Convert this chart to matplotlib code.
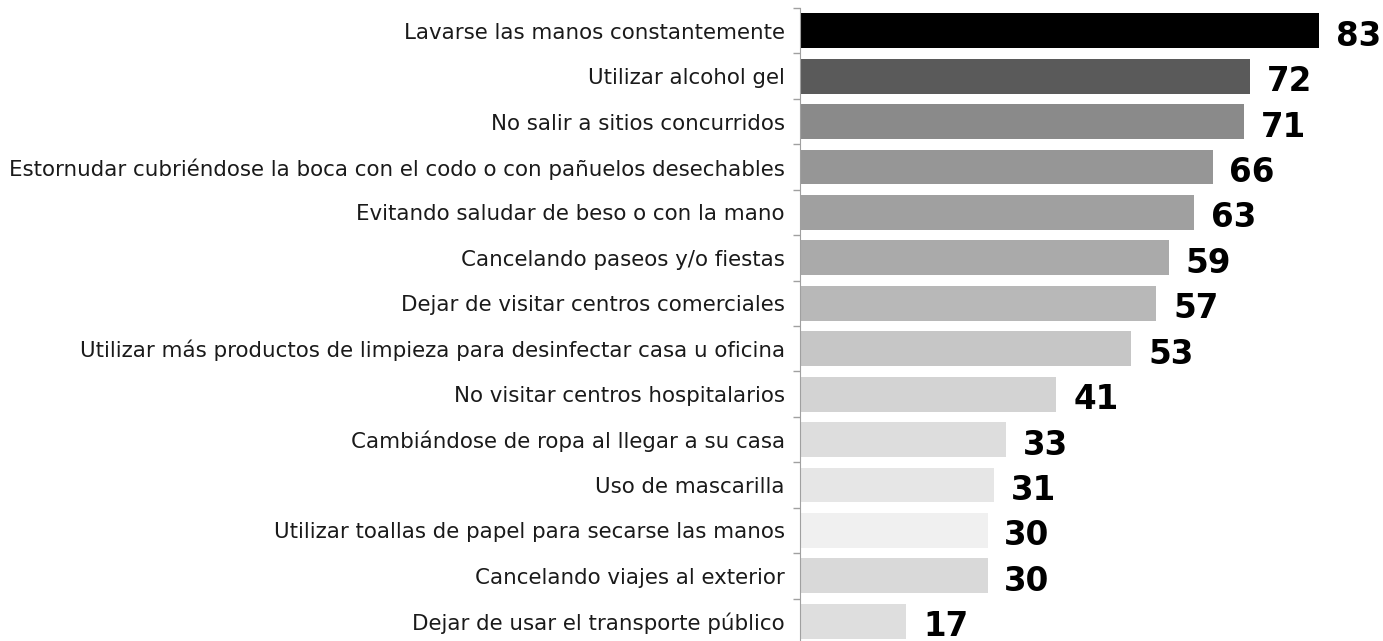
import matplotlib.pyplot as plt
import numpy as np

# Data
categorias = [
    'Lavarse las manos constantemente',
    'Utilizar alcohol gel',
    'No salir a sitios concurridos',
    'Estornudar cubriéndose la boca con el codo o con pañuelos desechables',
    'Evitando saludar de beso o con la mano',
    'Cancelando paseos y/o fiestas',
    'Dejar de visitar centros comerciales',
    'Utilizar más productos de limpieza para desinfectar casa u oficina',
    'No visitar centros hospitalarios',
    'Cambiándose de ropa al llegar a su casa',
    'Uso de mascarilla',
    'Utilizar toallas de papel para secarse las manos',
    'Cancelando viajes al exterior',
    'Dejar de usar el transporte público',
]
valores = [83, 72, 71, 66, 63, 59, 57, 53, 41, 33, 31, 30, 30, 17]
colores = ['#000000', '#5a5a5a', '#8a8a8a', '#969696', '#a0a0a0', '#aaaaaa',
           '#b8b8b8', '#c6c6c6', '#d3d3d3', '#dddddd', '#e6e6e6', '#f0f0f0',
           '#d9d9d9', '#dedede']

fig = plt.figure(figsize=(13.83, 6.41), dpi=100)
ax = fig.add_axes([800 / 1383, -3 / 641, 562.5 / 1383, 636 / 641])

y = np.arange(len(categorias))
ax.barh(y, valores, height=0.77, color=colores)
ax.set_xlim(0, 90)
ax.set_ylim(len(categorias) - 0.5, -0.5)

for yi, v in zip(y, valores):
    ax.text(v + 2.7, yi + 0.12, str(v), va='center', ha='left',
            fontsize=23.5, fontweight='bold', color='black', clip_on=False)

ax.set_yticks(y)
ax.set_yticklabels(categorias, fontsize=15.4, color='#1a1a1a')
ax.tick_params(axis='y', which='major', length=0, pad=11)
ax.set_yticks(np.arange(-0.5, len(categorias) + 0.5, 1), minor=True)
ax.tick_params(axis='y', which='minor', length=5, color='#a0a0a0', width=1)
ax.set_xticks([])

for s in ['top', 'right', 'bottom']:
    ax.spines[s].set_visible(False)
ax.spines['left'].set_color('#a0a0a0')

fig.savefig('out.png', dpi=100)
